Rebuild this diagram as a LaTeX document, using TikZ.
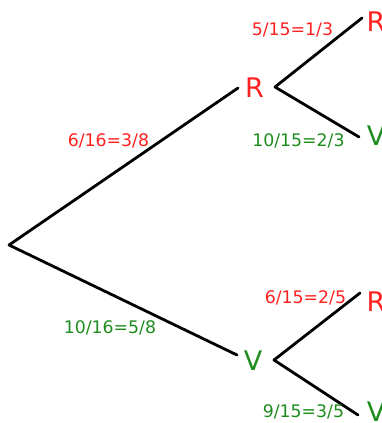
\documentclass[tikz,border=0pt]{standalone}
\usepackage{fontspec}
\setmainfont{DejaVu Sans}
\usepackage{tikz}
\usetikzlibrary{positioning}

\definecolor{tred}{RGB}{255,32,32}
\definecolor{tgreen}{RGB}{30,140,30}

\begin{document}
\begin{tikzpicture}[x=1pt,y=-1pt,
    branch/.style={line width=2.8pt,line cap=round,line join=round},
    letter/.style={inner sep=0pt,font=\fontsize{27}{30}\selectfont},
    prob/.style={inner sep=0pt,anchor=base,font=\fontsize{17.3}{19}\selectfont}]

\useasboundingbox (0,0) rectangle (382,423);

% Tree points
\coordinate (root) at (9,245);
\coordinate (r1) at (238,88);
\coordinate (v1) at (237,355);
\coordinate (r1fork) at (275,87);
\coordinate (v1fork) at (274,360);
\coordinate (rr) at (362,18);
\coordinate (rv) at (359,137);
\coordinate (vr) at (360,293);
\coordinate (vv) at (358,415);

% Letters
\node[letter,tred] (R1) at (254.5,88) {R};
\node[letter,tgreen] (V1) at (253,361) {V};
\node[letter,tred] (RR) at (376,22) {R};
\node[letter,tgreen] (RV) at (376,136) {V};
\node[letter,tred] (VR) at (376,302) {R};
\node[letter,tgreen] (VV) at (376,412) {V};

% Branches
\draw[branch] (r1) -- (root) -- (v1);
\draw[branch] (rr) -- (r1fork) -- (rv);
\draw[branch] (vr) -- (v1fork) -- (vv);

% Probabilities
\node[prob,tred] (p1) at (108.5,146) {6/16=3/8};
\node[prob,tgreen] (p2) at (110,333) {10/16=5/8};
\node[prob,tred] (p3) at (292.5,35) {5/15=1/3};
\node[prob,tgreen] (p4) at (298.5,146) {10/15=2/3};
\node[prob,tred] (p5) at (305.5,303) {6/15=2/5};
\node[prob,tgreen] (p6) at (303.5,417) {9/15=3/5};

\end{tikzpicture}
\end{document}
